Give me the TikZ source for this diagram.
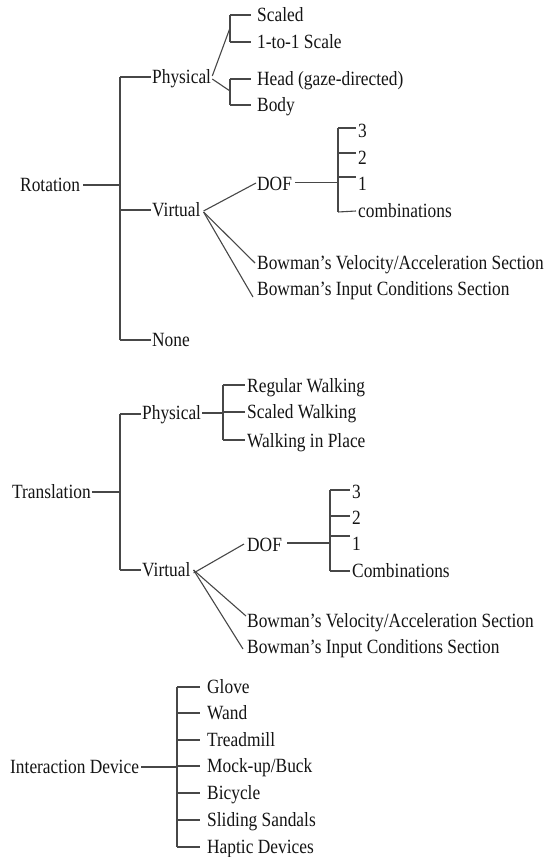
\documentclass[tikz,border=0pt]{standalone}
\usepackage{fontspec}
\setmainfont{Liberation Serif}[FakeStretch=0.86]
\begin{document}
\begin{tikzpicture}[x=1pt,y=-1pt,
  link/.style={draw=black!72,line width=1.1pt},
  lbl/.style={anchor=west,inner sep=0pt,text height=13pt,text depth=0.5pt,
    font=\fontsize{20.2}{22}\selectfont,text=black!92}]
\useasboundingbox (0,0) rectangle (549,857);

% ---------------- Rotation ----------------
\node[lbl] (rot) at (20,185) {Rotation};
\coordinate (rbarT) at (120,77);
\coordinate (rbarB) at (120,340);
\draw[link] (rbarT) -- (rbarB);
\draw[link] ([xshift=3pt]rot.east) -- (rot.east -| rbarT);

\node[lbl] (rphys) at (152,77) {Physical};
\node[lbl] (rvirt) at (152,210) {Virtual};
\node[lbl] (rnone) at (152,340) {None};
\draw[link] (rbarT) -- ([xshift=-1pt]rphys.west);
\draw[link] (rbarT |- rvirt.west) -- ([xshift=-1pt]rvirt.west);
\draw[link] (rbarB) -- ([xshift=-1pt]rnone.west);

% physical: scale
\node[lbl] (rscaled) at (257,15) {Scaled};
\node[lbl] (rone) at (257,42) {1-to-1 Scale};
\coordinate (pa1) at (230,15);
\coordinate (pa2) at (230,42);
\draw[link] (pa1) -- (pa2);
\draw[link] (pa1) -- ([xshift=-6pt]rscaled.west);
\draw[link] (pa2) -- ([xshift=-6pt]rone.west);
\draw[link] ([xshift=1pt,yshift=1pt]rphys.east) -- (230,28);

% physical: body part
\node[lbl] (rhead) at (257,79) {Head (gaze-directed)};
\node[lbl] (rbody) at (257,105) {Body};
\coordinate (pb1) at (230,79);
\coordinate (pb2) at (230,105);
\draw[link] (pb1) -- (pb2);
\draw[link] (pb1) -- ([xshift=-6pt]rhead.west);
\draw[link] (pb2) -- ([xshift=-6pt]rbody.west);
\draw[link] ([xshift=1pt,yshift=-2pt]rphys.east) -- (230,91);

% virtual: degrees of freedom
\node[lbl] (rdof) at (257,184) {DOF};
\draw[link] ([xshift=3pt,yshift=-1pt]rvirt.east) -- ([xshift=-1pt,yshift=1pt]rdof.west);
\coordinate (rd3) at (338,128);
\coordinate (rdc) at (338,212);
\draw[link] (rd3) -- (rdc);
\draw[link] ([xshift=3pt,yshift=1.5pt]rdof.east) -- (338,182.5);
\node[lbl] (r3) at (358,131) {3};
\node[lbl] (r2) at (358,158) {2};
\node[lbl] (r1) at (358,184) {1};
\node[lbl] (rcomb) at (358,211) {combinations};
\coordinate (rt3) at (356,128);
\coordinate (rt2) at (356,153);
\coordinate (rt1) at (356,177);
\draw[link] (rd3) -- (rt3);
\draw[link] (rt2 -| rd3) -- (rt2);
\draw[link] (rt1 -| rd3) -- (rt1);
\draw[link] (rdc) -- ([xshift=-2pt]rcomb.west);

% virtual: Bowman sections
\node[lbl] (rvel) at (257,263) {Bowman’s Velocity/Acceleration Section};
\node[lbl] (rinp) at (257,289) {Bowman’s Input Conditions Section};
\draw[link] ([xshift=3pt,yshift=-2pt]rvirt.east) -- ([xshift=-2pt]rvel.west);
\draw[link] ([xshift=3pt,yshift=-2pt]rvirt.east) -- ([xshift=-4pt,yshift=-8pt]rinp.west);

% ---------------- Translation ----------------
\node[lbl] (tra) at (12,492) {Translation};
\coordinate (tbarT) at (120,414);
\coordinate (tbarB) at (120,570);
\draw[link] (tbarT) -- (tbarB);
\draw[link] ([xshift=1pt]tra.east) -- (tra.east -| tbarT);

\node[lbl] (tphys) at (142,413) {Physical};
\node[lbl] (tvirt) at (142,570) {Virtual};
\draw[link] (tbarT) -- ([xshift=-1pt]tphys.west |- tbarT);
\draw[link] (tbarB) -- ([xshift=-1pt]tvirt.west);

% physical: walking
\node[lbl] (treg) at (247,386) {Regular Walking};
\node[lbl] (tscl) at (247,412) {Scaled Walking};
\node[lbl] (tplace) at (247,441) {Walking in Place};
\coordinate (tw1) at (223,385);
\coordinate (tw3) at (223,440);
\draw[link] (tw1) -- (tw3);
\draw[link] ([xshift=1pt]tphys.east) -- (tphys.east -| tw1);
\draw[link] (tw1) -- ([xshift=-2pt]treg.west |- tw1);
\draw[link] (tscl.west -| tw1) -- ([xshift=-2pt]tscl.west);
\draw[link] (tw3) -- ([xshift=-2pt]tplace.west |- tw3);

% virtual: degrees of freedom
\node[lbl] (tdof) at (247,545) {DOF};
\draw[link] ([xshift=3pt,yshift=-3pt]tvirt.east) -- ([xshift=-3pt,yshift=1pt]tdof.west);
\coordinate (td3) at (330,490);
\coordinate (tdc) at (330,571);
\draw[link] (td3) -- (tdc);
\draw[link] ([xshift=5pt,yshift=2pt]tdof.east) -- (330,543);
\node[lbl] (t3) at (352,492) {3};
\node[lbl] (t2) at (352,518) {2};
\node[lbl] (t1) at (352,544) {1};
\node[lbl] (tcomb) at (352,571) {Combinations};
\coordinate (tt3) at (350,490);
\coordinate (tt2) at (350,516);
\coordinate (tt1) at (350,536);
\draw[link] (td3) -- (tt3);
\draw[link] (tt2 -| td3) -- (tt2);
\draw[link] (tt1 -| td3) -- (tt1);
\draw[link] (tdc) -- ([xshift=-2pt]tcomb.west);

% virtual: Bowman sections
\node[lbl] (tvel) at (247,621) {Bowman’s Velocity/Acceleration Section};
\node[lbl] (tinp) at (247,647) {Bowman’s Input Conditions Section};
\draw[link] ([xshift=3pt]tvirt.east) -- ([xshift=-1pt,yshift=5pt]tvel.west);
\draw[link] ([xshift=3pt]tvirt.east) -- ([xshift=-4pt,yshift=-2pt]tinp.west);

% ---------------- Interaction Device ----------------
\node[lbl] (dev) at (10,767) {Interaction Device};
\coordinate (dbarT) at (177,687);
\coordinate (dbarB) at (177,847);
\draw[link] (dbarT) -- (dbarB);
\draw[link] ([xshift=2pt]dev.east) -- (dev.east -| dbarT);
\foreach \name/\txt/\yy in {glove/Glove/687, wand/Wand/713, tread/Treadmill/740,
    mock/Mock-up\slash Buck/766, bike/Bicycle/793, sandals/Sliding Sandals/820,
    haptic/Haptic Devices/847}{
  \node[lbl] (\name) at (207,\yy) {\txt};
  \draw[link] (\name.west -| dbarT) -- ([xshift=-7pt]\name.west);
}
\end{tikzpicture}
\end{document}
